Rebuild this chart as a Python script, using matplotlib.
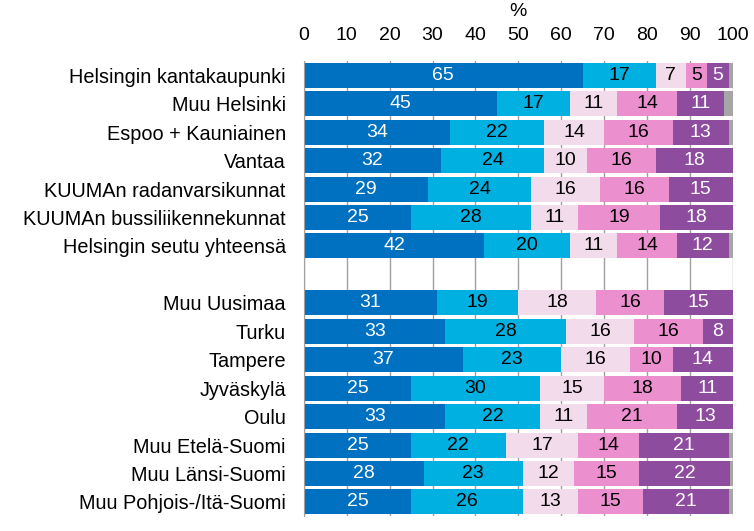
import matplotlib
matplotlib.use("Agg")
import numpy as np
import matplotlib.pyplot as plt

plt.rcParams['font.family'] = ['Liberation Sans', 'DejaVu Sans']

# alueet (tyhjä rivi = väli)
categories = ["Helsingin kantakaupunki", "Muu Helsinki", "Espoo + Kauniainen", "Vantaa",
              "KUUMAn radanvarsikunnat", "KUUMAn bussiliikennekunnat", "Helsingin seutu yhteensä",
              "",
              "Muu Uusimaa", "Turku", "Tampere", "Jyväskylä", "Oulu",
              "Muu Etelä-Suomi", "Muu Länsi-Suomi", "Muu Pohjois-/Itä-Suomi"]

s1 = [65, 45, 34, 32, 29, 25, 42, 0, 31, 33, 37, 25, 33, 25, 28, 25]
s2 = [17, 17, 22, 24, 24, 28, 20, 0, 19, 28, 23, 30, 22, 22, 23, 26]
s3 = [7, 11, 14, 10, 16, 11, 11, 0, 18, 16, 16, 15, 11, 17, 12, 13]
s4 = [5, 14, 16, 16, 16, 19, 14, 0, 16, 16, 10, 18, 21, 14, 15, 15]
s5 = [5, 11, 13, 18, 15, 18, 12, 0, 15, 8, 14, 11, 13, 21, 22, 21]
rest = [1, 2, 1, 0, 0, 0, 1, 0, 0, 0, 0, 0, 0, 1, 0.6, 0.8]

colors = ['#0070C0', '#00B0E0', '#F2DCEB', '#EC8FCF', '#8E4C9E', '#A6A6A6']
txtcol = ['white', 'black', 'black', 'black', 'white', None]

n = len(categories)
# viimeinen (violetti) pala täyttää 100:aan asti, harmaa loppu päälle
s5w = [0 if c == "" else 100 - a - b - d - e - r
       for c, a, b, d, e, r in zip(categories, s1, s2, s3, s4, rest)]
widths = [s1, s2, s3, s4, s5w, rest]
labels = [s1, s2, s3, s4, s5, None]

fig = plt.figure(figsize=(7.54, 5.31), dpi=100)
ax = fig.add_axes([0.403, 0.028, 0.569, 0.857])

y = np.arange(n)
left = np.zeros(n)
for w, lab, c, tc in zip(widths, labels, colors, txtcol):
    w = np.array(w, dtype=float)
    ax.barh(y, w, left=left, height=0.88, color=c, zorder=2)
    if lab is not None:
        for yi in range(n):
            if lab[yi] > 0:
                ax.text(left[yi] + w[yi] / 2, yi, "%d" % lab[yi], ha='center', va='center',
                        color=tc, fontsize=14, zorder=3)
    left += w

ax.set_xlim(0, 100)
ax.set_ylim(n - 0.5, -0.5)
ax.set_xticks(range(0, 101, 10))
ax.xaxis.tick_top()
ax.tick_params(axis='x', length=0, pad=12, labelsize=14)
ax.tick_params(axis='y', length=0, pad=13, labelsize=14.3)
ax.set_yticks(y)
ax.set_yticklabels(categories)
ax.grid(axis='x', color='#A0A0A0', linewidth=1, zorder=0)
for sp in ['top', 'right', 'bottom']:
    ax.spines[sp].set_visible(False)
ax.spines['left'].set_color('#A0A0A0')
ax.set_axisbelow(True)
fig.text(0.5 * (0.403 + 0.972), 1 - 11 / 531, "%", ha='center', va='center', fontsize=14)

fig.savefig("out.png", dpi=100)
